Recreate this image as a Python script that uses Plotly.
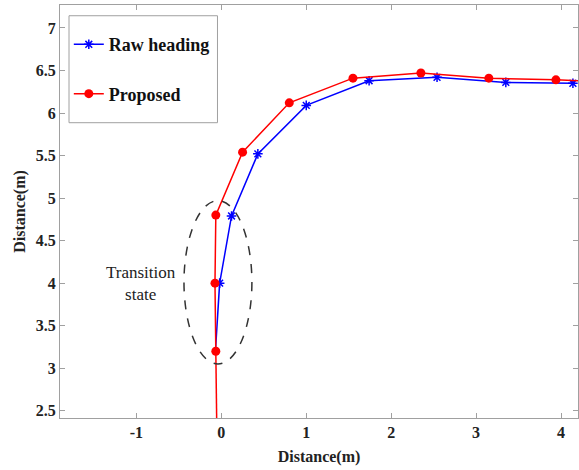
import plotly.graph_objects as go

# Data
raw_x = [-0.07, -0.02, 0.12, 0.43, 1.00, 1.74, 2.54, 3.35, 4.14]
raw_y = [3.20, 4.00, 4.79, 5.52, 6.09, 6.38, 6.42, 6.36, 6.35]

prop_x = [-0.05, -0.065, -0.075, -0.065, 0.25, 0.80, 1.55, 2.35, 3.15, 3.94, 4.40]
prop_y = [2.00, 3.20, 4.00, 4.80, 5.54, 6.12, 6.41, 6.47, 6.41, 6.39, 6.37]

xticks = [-1, 0, 1, 2, 3, 4]
yticks = [2.5, 3, 3.5, 4, 4.5, 5, 5.5, 6, 6.5, 7]
ytick_labels = ["2.5", "3", "3.5", "4", "4.5", "5", "5.5", "6", "6.5", "7"]

ellipse = dict(x0=-0.44, x1=0.36, y0=3.05, y1=4.97)

FONT = "Liberation Serif, Times New Roman, serif"
BLUE = "#0000FF"
RED = "#FF0000"

fig = go.Figure()
# unmarked line segments at the ends of each path
fig.add_trace(go.Scatter(x=raw_x[:2], y=raw_y[:2], mode="lines", showlegend=False,
                         line=dict(color=BLUE, width=1.5), hoverinfo="skip"))
fig.add_trace(go.Scatter(
    x=raw_x[1:], y=raw_y[1:], mode="lines+markers", name="<b>Raw heading</b>",
    legendgroup="a",
    line=dict(color=BLUE, width=1.5),
    marker=dict(symbol="asterisk-open", size=8, line=dict(color=BLUE, width=1.5)),
))

fig.add_trace(go.Scatter(x=prop_x[:2] + [None] + prop_x[-2:],
                         y=prop_y[:2] + [None] + prop_y[-2:],
                         mode="lines", showlegend=False,
                         line=dict(color=RED, width=1.5), hoverinfo="skip"))
fig.add_trace(go.Scatter(
    x=prop_x[1:-1], y=prop_y[1:-1], mode="lines+markers", name="<b>Proposed</b>",
    legendgroup="b",
    line=dict(color=RED, width=1.5),
    marker=dict(symbol="circle", size=9, color=RED),
))

fig.add_shape(type="circle", xref="x", yref="y", **ellipse,
              line=dict(color="#333333", width=1.5, dash="dash"))

# legend frame
fig.add_shape(type="rect", xref="paper", yref="paper",
              x0=0.0174, x1=0.304, y0=0.715, y1=0.974,
              line=dict(color="#a0a0a0", width=1), fillcolor="white", layer="below")

fig.add_annotation(x=-0.95, y=4.0, xref="x", yref="y", text="Transition<br>state",
                   showarrow=False, font=dict(family=FONT, size=17, color="#222222"),
                   align="center")

axis_common = dict(
    showgrid=False, zeroline=False, showline=True, mirror="ticks",
    linecolor="#a0a0a0", linewidth=1.2, ticks="inside", ticklen=5,
    tickcolor="#a0a0a0",
    tickfont=dict(family=FONT, size=16, color="#222222"),
)

fig.update_xaxes(range=[-1.9, 4.2], tickvals=xticks, ticktext=[f"<b>{t}</b>" for t in xticks],
                 title=dict(text="<b>Distance(m)</b>", font=dict(family=FONT, size=16, color="#222222"),
                            standoff=10),
                 **axis_common)
fig.update_yaxes(range=[2.415, 7.27], tickvals=yticks, ticktext=[f"<b>{t}</b>" for t in ytick_labels],
                 title=dict(text="<b>Distance(m)</b>", font=dict(family=FONT, size=16, color="#222222"),
                            standoff=6),
                 **axis_common)

fig.update_layout(
    width=579, height=470,
    margin=dict(l=60, r=1, t=5, b=52),
    plot_bgcolor="white", paper_bgcolor="white",
    showlegend=True,
    legend=dict(x=0.017, y=0.949, xanchor="left", yanchor="top",
                bgcolor="rgba(0,0,0,0)", borderwidth=0,
                font=dict(family=FONT, size=18, color="#111111"),
                tracegroupgap=23, itemwidth=30),
)

fig.write_html("out.html")
